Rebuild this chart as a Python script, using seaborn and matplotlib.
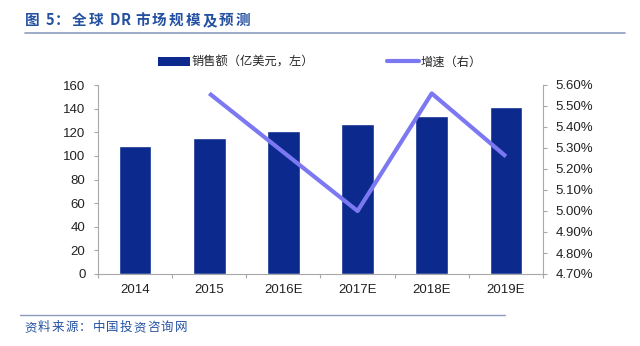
import numpy as np
import pandas as pd
import matplotlib
matplotlib.use("Agg")
import matplotlib.pyplot as plt
import seaborn as sns
from matplotlib.patches import Patch
from matplotlib.lines import Line2D
from matplotlib.ticker import FuncFormatter, MultipleLocator

# Data
years = ["2014", "2015", "2016E", "2017E", "2018E", "2019E"]
sales = [108.5, 115, 121, 127, 134, 141]          # 销售额（亿美元）
growth_years = ["2015", "2016E", "2017E", "2018E", "2019E"]
growth = [5.56, 5.28, 5.00, 5.56, 5.26]          # 增速（%）

left_ticks = [0, 20, 40, 60, 80, 100, 120, 140, 160]
right_ticks = [4.7, 4.8, 4.9, 5.0, 5.1, 5.2, 5.3, 5.4, 5.5, 5.6]

title = "图 5：全球 DR 市场规模及预测"
source = "资料来源：中国投资咨询网"
legend_labels = ["销售额（亿美元，左）", "增速（右）"]

sns.set_theme(style="white")
plt.rcParams["font.family"] = ["Liberation Sans", "Noto Sans CJK SC", "DejaVu Sans"]

BAR_C = "#0C2A8E"
LINE_C = "#7C78F2"
AX_C = "#A8A8A8"
TITLE_C = "#2450A2"
CJK = ["Noto Sans CJK SC", "DejaVu Sans"]

fig = plt.figure(figsize=(6.4, 3.46), dpi=100)
ax = fig.add_axes([98 / 640, 1 - 274 / 346, 445 / 640, 189 / 346])

pos = np.arange(len(years))
df = pd.DataFrame({"pos": pos, "sales": sales})
sns.barplot(data=df, x="pos", y="sales", color=BAR_C, saturation=1,
            width=0.44, ax=ax, native_scale=True)

ax2 = ax.twinx()
gpos = [years.index(y) for y in growth_years]
gdf = pd.DataFrame({"pos": gpos, "growth": growth})
sns.lineplot(data=gdf, x="pos", y="growth", color=LINE_C, linewidth=3,
             ax=ax2, solid_capstyle="butt")

ax.set_xlim(-0.5, len(years) - 0.5)
ax.set_ylim(0, 160)
ax2.set_ylim(4.7, 5.6)
ax.set_yticks(left_ticks)
ax2.set_yticks(right_ticks)
ax2.yaxis.set_major_formatter(FuncFormatter(lambda v, _: f"{v:.2f}%"))

ax.set_xticks(pos)
ax.set_xticklabels(years)
ax.xaxis.set_minor_locator(MultipleLocator(1, offset=0.5))
ax.tick_params(axis="x", which="major", length=0, pad=7, labelsize=9.5, colors="#222222")
ax.tick_params(axis="x", which="minor", length=3, width=0.8, color=AX_C, direction="out", bottom=True)
ax.tick_params(axis="y", length=3, width=0.8, color=AX_C, direction="out", left=True,
               labelsize=9.5, labelcolor="#222222", pad=6)
ax2.tick_params(axis="y", length=3, width=0.8, color=AX_C, direction="out", right=True,
                labelsize=9.5, labelcolor="#222222", pad=6)

for a in (ax, ax2):
    a.set_xlabel("")
    a.set_ylabel("")
    a.grid(False)
    a.spines["top"].set_visible(False)
    for s in ("left", "right", "bottom"):
        a.spines[s].set_color(AX_C)
        a.spines[s].set_linewidth(0.8)
ax.spines["right"].set_visible(False)
ax2.spines["left"].set_visible(False)
ax2.spines["bottom"].set_visible(False)

# Legend
handles = [Patch(facecolor=BAR_C, edgecolor="none"),
           Line2D([], [], color=LINE_C, linewidth=3)]
fig.legend(handles, legend_labels, loc="center", bbox_to_anchor=(0.5, 1 - 62 / 346),
           ncol=2, frameon=False, columnspacing=6.0, handlelength=2.6,
           handleheight=0.7, handletextpad=0.15,
           prop={"family": CJK, "size": 8.8})


def tracked_text(s, x_px, y_px, pitch_extra, **kw):
    """Write a string character by character on a common baseline;
    wide (CJK) glyphs get extra spacing."""
    renderer = fig.canvas.get_renderer()
    x = x_px
    for ch in s:
        if not ch.strip():
            x += 4
            continue
        t = fig.text(x / 640, 1 - y_px / 346, ch, va="baseline", ha="left", **kw)
        w = t.get_window_extent(renderer).width
        x += w + (pitch_extra if ord(ch) > 0x2000 else 0.5)


# Title and rules
tracked_text(title, 25, 25, 2.2, color=TITLE_C, fontsize=10.5,
             fontweight="bold", family=CJK)
fig.add_artist(Line2D([25 / 640, 625 / 640], [1 - 33 / 346, 1 - 33 / 346],
                      color="#8C9CC0", linewidth=1.2))
fig.add_artist(Line2D([20 / 640, 505 / 640], [1 - 315 / 346, 1 - 315 / 346],
                      color="#8C9CC0", linewidth=1.0))
tracked_text(source, 24, 331, 1.2, color=TITLE_C, fontsize=9, family=CJK)

fig.savefig("out.png", dpi=100)
